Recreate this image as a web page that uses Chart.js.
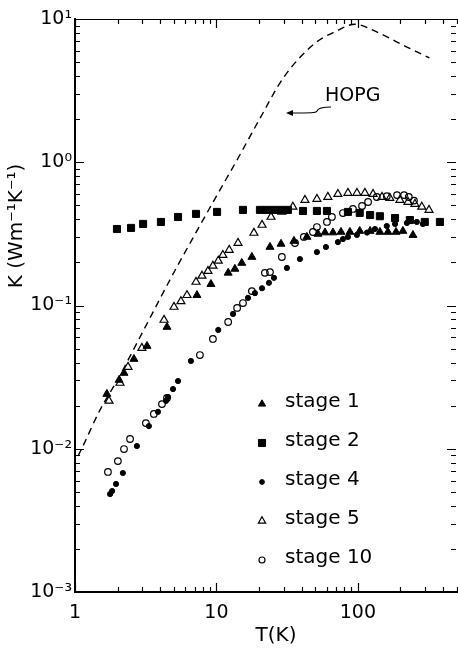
<!DOCTYPE html>
<html lang="en">
<head>
<meta charset="UTF-8">
<title>Thermal conductivity vs temperature</title>
<script src="https://cdn.jsdelivr.net/npm/chart.js"></script>
<style>
  html, body { margin: 0; padding: 0; background: #fff; }
  #wrap { width: 458px; height: 648px; }
</style>
</head>
<body>
<div id="wrap"><canvas id="kChart" width="458" height="648"></canvas></div>
<script>
// values: T in K, K in W m^-1 K^-1
const hopgT = [1.05, 1.12, 1.5, 2, 3, 5, 7, 10, 14, 20, 30, 50, 70, 95, 140, 220, 320];
const hopgK = [0.0089, 0.0101, 0.0186, 0.0303, 0.065, 0.17, 0.31, 0.58, 1.04, 1.97, 3.94, 6.8, 8.2, 9.2, 8.0, 6.4, 5.35];

const stage1T = [1.68, 2.05, 2.22, 2.61, 3.23, 4.47, 7.28, 9.14, 12.1, 13.5, 15.1, 17.8, 23.9, 28.6, 35.3, 43.6, 52.2, 58.5, 66.6, 75.9, 87.8, 103, 122, 143, 163, 186, 208, 245];
const stage1K = [0.0241, 0.0302, 0.0338, 0.0423, 0.0521, 0.0708, 0.118, 0.141, 0.169, 0.180, 0.198, 0.218, 0.256, 0.269, 0.282, 0.301, 0.316, 0.323, 0.323, 0.326, 0.326, 0.331, 0.331, 0.326, 0.326, 0.326, 0.331, 0.31];

const stage2T = [1.98, 2.49, 3.03, 4.05, 5.35, 7.17, 10.1, 15.4, 20.3, 22.7, 25.5, 28.6, 32, 40.9, 51.3, 60.4, 85, 103, 122, 143, 183, 233, 297, 380];
const stage2K = [0.342, 0.348, 0.371, 0.383, 0.415, 0.436, 0.450, 0.465, 0.465, 0.465, 0.465, 0.465, 0.465, 0.457, 0.457, 0.457, 0.45, 0.443, 0.428, 0.42, 0.408, 0.395, 0.383, 0.383];

const stage4T = [1.77, 1.83, 1.95, 2.18, 2.74, 3.33, 3.86, 4.40, 4.54, 4.93, 5.35, 6.60, 10.3, 13.1, 16.7, 18.7, 21.0, 23.5, 25.5, 31.5, 38.9, 51.3, 59.4, 72.2, 78.4, 85.0, 98.4, 116, 132, 160, 183, 222, 261, 288];
const stage4K = [0.00483, 0.00507, 0.00568, 0.00677, 0.01045, 0.0144, 0.0181, 0.0216, 0.0230, 0.0261, 0.0297, 0.0410, 0.0675, 0.0873, 0.113, 0.122, 0.132, 0.144, 0.156, 0.183, 0.211, 0.236, 0.256, 0.277, 0.291, 0.301, 0.311, 0.323, 0.342, 0.359, 0.371, 0.377, 0.383, 0.371];

const stage5T = [1.74, 2.08, 2.37, 2.97, 4.26, 5.01, 5.61, 6.19, 7.17, 7.90, 8.71, 9.44, 10.3, 11.1, 12.3, 14.2, 18.4, 21.0, 24.3, 29.0, 34.7, 42.2, 51.3, 61.3, 72.2, 85, 98.4, 112, 128, 148, 168, 198, 226, 253, 283, 318];
const stage5K = [0.0216, 0.0288, 0.0372, 0.0505, 0.0793, 0.0977, 0.107, 0.118, 0.146, 0.161, 0.174, 0.189, 0.205, 0.225, 0.244, 0.273, 0.321, 0.365, 0.415, 0.450, 0.488, 0.545, 0.554, 0.572, 0.600, 0.610, 0.610, 0.610, 0.600, 0.572, 0.563, 0.545, 0.528, 0.511, 0.488, 0.464];

const stage10T = [1.71, 2.01, 2.22, 2.45, 3.17, 3.61, 4.12, 4.47, 7.64, 9.44, 12.1, 14.0, 15.4, 17.8, 22.0, 23.9, 29.0, 35.9, 41.5, 48.1, 51.3, 60.4, 65.5, 78.4, 92.2, 107, 118, 136, 160, 189, 212, 229, 249];
const stage10K = [0.00689, 0.0082, 0.00995, 0.0117, 0.0151, 0.0175, 0.0205, 0.0226, 0.0451, 0.0584, 0.0767, 0.0962, 0.104, 0.126, 0.169, 0.171, 0.218, 0.273, 0.301, 0.326, 0.353, 0.383, 0.415, 0.442, 0.472, 0.495, 0.528, 0.572, 0.58, 0.590, 0.59, 0.572, 0.54];

const xTickValues = [1, 10, 100];
const xTickText = ['1', '10', '100'];
const yTickValues = [0.001, 0.01, 0.1, 1, 10];
const yTickText = ['10⁻³', '10⁻²', '10⁻¹', '10⁰', '10¹'];
const yTitle = 'K (Wm⁻¹K⁻¹)';

const FONT = 'DejaVu Sans';

function pts(xs, ys) {
  return xs.map((x, i) => ({ x: x, y: ys[i] }));
}

function labelFor(values, texts) {
  return function(value) {
    for (let i = 0; i < values.length; i++) {
      if (Math.abs(value - values[i]) / values[i] < 1e-6) return texts[i];
    }
    return '';
  };
}

// inward ticks on all four sides, top frame line, y title, legend and HOPG label
const decor = {
  id: 'decor',
  afterDraw(chart) {
    const ctx = chart.ctx;
    const area = chart.chartArea;
    const xs = chart.scales.x, ys = chart.scales.y;
    ctx.save();
    ctx.strokeStyle = '#000';
    ctx.fillStyle = '#000';
    ctx.lineWidth = 1;
    ctx.beginPath();
    ctx.moveTo(area.left, area.top + 0.5);
    ctx.lineTo(area.right, area.top + 0.5);
    ctx.stroke();

    ctx.lineWidth = 1.2;
    ctx.beginPath();
    for (let e = -3; e <= 1; e++) {
      for (let m = 1; m <= 9; m++) {
        const v = m * Math.pow(10, e);
        if (v < ys.min * 0.999 || v > ys.max * 1.001) continue;
        const py = Math.round(ys.getPixelForValue(v)) + 0.5;
        const len = m === 1 ? 9 : 5;
        ctx.moveTo(area.left, py); ctx.lineTo(area.left + len, py);
        ctx.moveTo(area.right - 2, py); ctx.lineTo(area.right - 2 - len, py);
      }
    }
    for (let e = 0; e <= 2; e++) {
      for (let m = 1; m <= 9; m++) {
        const v = m * Math.pow(10, e);
        if (v > xs.max) continue;
        const px = Math.round(xs.getPixelForValue(v)) + 0.5;
        const len = m === 1 ? 9 : 5;
        ctx.moveTo(px, area.bottom); ctx.lineTo(px, area.bottom - len);
        ctx.moveTo(px, area.top); ctx.lineTo(px, area.top + len);
      }
    }
    ctx.stroke();

    // y axis title, sitting in the upper half like the original
    ctx.save();
    ctx.translate(17, 226);
    ctx.rotate(-Math.PI / 2);
    ctx.font = '20px "' + FONT + '"';
    ctx.textAlign = 'center';
    ctx.textBaseline = 'middle';
    ctx.fillText(yTitle, 0, 0);
    ctx.restore();

    // legend for the stage series
    const lx = 262, ly0 = 404, step = 39;
    ctx.font = '20px "' + FONT + '"';
    ctx.textBaseline = 'middle';
    ctx.textAlign = 'left';
    chart.data.datasets.filter(d => d.label !== 'HOPG').forEach((d, i) => {
      const y = ly0 + i * step;
      ctx.save();
      ctx.fillStyle = d.backgroundColor;
      ctx.strokeStyle = d.borderColor;
      ctx.lineWidth = d.borderWidth;
      Chart.helpers.drawPoint(ctx, {
        pointStyle: d.pointStyle,
        radius: d.legendRadius,
        borderWidth: d.borderWidth,
        rotation: 0
      }, lx, y);
      ctx.restore();
      ctx.fillText(d.label, lx + 23, y - 2);
    });

    // HOPG label with its curly arrow
    ctx.font = '19px "' + FONT + '"';
    ctx.fillText('HOPG', 325, 96);
    ctx.lineWidth = 1.2;
    ctx.beginPath();
    ctx.moveTo(331, 107);
    ctx.bezierCurveTo(322, 107, 318, 108, 317, 111);
    ctx.bezierCurveTo(316, 113, 312, 113, 289, 113);
    ctx.stroke();
    ctx.beginPath();
    ctx.moveTo(286, 113);
    ctx.lineTo(293, 110);
    ctx.lineTo(293, 116);
    ctx.closePath();
    ctx.fill();
    ctx.restore();
  }
};

const ctx = document.getElementById('kChart').getContext('2d');
const chart = new Chart(ctx, {
  type: 'scatter',
  data: {
    datasets: [
      {
        label: 'HOPG',
        data: pts(hopgT, hopgK),
        showLine: true,
        borderColor: '#000',
        borderWidth: 1.4,
        borderDash: [7, 5],
        pointRadius: 0,
        cubicInterpolationMode: 'monotone'
      },
      {
        label: 'stage 1',
        data: pts(stage1T, stage1K),
        pointStyle: 'triangle',
        pointRadius: 4.6,
        legendRadius: 4.2,
        backgroundColor: '#000',
        borderColor: '#000',
        borderWidth: 1
      },
      {
        label: 'stage 2',
        data: pts(stage2T, stage2K),
        pointStyle: 'rect',
        pointRadius: 5,
        legendRadius: 5,
        backgroundColor: '#000',
        borderColor: '#000',
        borderWidth: 1
      },
      {
        label: 'stage 4',
        data: pts(stage4T, stage4K),
        pointStyle: 'circle',
        pointRadius: 2.6,
        legendRadius: 2.4,
        backgroundColor: '#000',
        borderColor: '#000',
        borderWidth: 1
      },
      {
        label: 'stage 5',
        data: pts(stage5T, stage5K),
        pointStyle: 'triangle',
        pointRadius: 4.6,
        legendRadius: 4.2,
        backgroundColor: 'rgba(255,255,255,0)',
        borderColor: '#000',
        borderWidth: 1.2
      },
      {
        label: 'stage 10',
        data: pts(stage10T, stage10K),
        pointStyle: 'circle',
        pointRadius: 3.3,
        legendRadius: 3,
        backgroundColor: 'rgba(255,255,255,0)',
        borderColor: '#000',
        borderWidth: 1.2
      }
    ]
  },
  options: {
    responsive: false,
    animation: false,
    layout: { autoPadding: false, padding: { top: 19, right: 0, left: 0, bottom: 0 } },
    plugins: {
      legend: { display: false },
      tooltip: { enabled: false }
    },
    scales: {
      x: {
        type: 'logarithmic',
        min: 1,
        max: 510,
        afterFit: (s) => { s.height = 56; },
        // invisible tick marks only push the labels down, the real ticks are drawn inward
        grid: { display: true, drawOnChartArea: false, drawTicks: true, tickLength: 10, color: 'rgba(0,0,0,0)' },
        border: { display: true, color: '#000', width: 2 },
        ticks: {
          autoSkip: false,
          maxRotation: 0,
          minRotation: 0,
          padding: 0,
          color: '#000',
          font: { family: FONT, size: 19 },
          callback: labelFor(xTickValues, xTickText)
        },
        title: {
          display: true,
          text: '   T(K)',
          color: '#000',
          font: { family: FONT, size: 20 },
          padding: { top: 0, bottom: 0 }
        }
      },
      y: {
        type: 'logarithmic',
        min: 0.001,
        max: 10,
        afterFit: (s) => { s.width = 75; },
        grid: { display: false, drawTicks: false },
        border: { display: true, color: '#000', width: 2 },
        ticks: {
          autoSkip: false,
          padding: 3,
          color: '#000',
          font: { family: FONT, size: 19 },
          callback: labelFor(yTickValues, yTickText)
        }
      }
    }
  },
  plugins: [decor]
});
</script>
</body>
</html>
